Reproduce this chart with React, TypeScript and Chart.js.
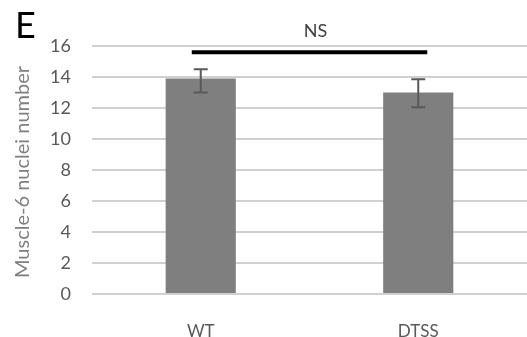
import React, { useEffect, useRef } from "react";
import { Chart, registerables } from "chart.js";

Chart.register(...registerables);

const categories = ["WT", "DTSS"];
const means = [13.9, 13.0];
const errUp = [0.6, 0.85];
const errDown = [0.9, 0.95];
const yTicks = [0, 2, 4, 6, 8, 10, 12, 14, 16];
const sigLabel = "NS";
const sigLevel = 15.6;
const panelLabel = "E";
const yTitle = "Muscle-6 nuclei number";

const FONT = "Lato, 'Open Sans', sans-serif";

const overlay = {
  id: "overlay",
  afterDatasetsDraw(chart: any) {
    const ctx = chart.ctx;
    const x = chart.scales.x;
    const y = chart.scales.y;
    ctx.save();
    // error bars
    ctx.strokeStyle = "#595959";
    ctx.lineWidth = 2;
    means.forEach((m, i) => {
      const cx = x.getPixelForValue(i);
      const top = y.getPixelForValue(m + errUp[i]);
      const bot = y.getPixelForValue(m - errDown[i]);
      ctx.beginPath();
      ctx.moveTo(cx, top);
      ctx.lineTo(cx, bot);
      ctx.moveTo(cx - 7, top);
      ctx.lineTo(cx + 7, top);
      ctx.moveTo(cx - 7, bot);
      ctx.lineTo(cx + 7, bot);
      ctx.stroke();
    });
    // significance line
    const x0 = x.getPixelForValue(0) - 9;
    const x1 = x.getPixelForValue(1) + 9;
    const ly = y.getPixelForValue(sigLevel);
    ctx.strokeStyle = "#000000";
    ctx.lineWidth = 4;
    ctx.beginPath();
    ctx.moveTo(x0, ly);
    ctx.lineTo(x1, ly);
    ctx.stroke();
    ctx.fillStyle = "#404040";
    ctx.font = `18px ${FONT}`;
    ctx.textAlign = "center";
    ctx.textBaseline = "middle";
    ctx.fillText(sigLabel, (x0 + x1) / 2 + 6, ly - 21);
    // panel label
    ctx.fillStyle = "#000000";
    ctx.font = `36px ${FONT}`;
    ctx.textAlign = "left";
    ctx.textBaseline = "alphabetic";
    ctx.fillText(panelLabel, 15, 38);
    // y title
    ctx.translate(23, 172);
    ctx.rotate(-Math.PI / 2);
    ctx.fillStyle = "#7f7f7f";
    ctx.font = `20px ${FONT}`;
    ctx.textAlign = "center";
    ctx.textBaseline = "middle";
    ctx.fillText(yTitle, 0, 0);
    ctx.restore();
  },
};

export default function App() {
  const ref = useRef<HTMLCanvasElement>(null);
  useEffect(() => {
    document.body.style.margin = "0";
    const chart = new Chart(ref.current!, {
      type: "bar",
      data: {
        labels: categories,
        datasets: [
          {
            data: means,
            backgroundColor: "#7f7f7f",
            borderWidth: 0,
            categoryPercentage: 1,
            barPercentage: 70 / 217,
          },
        ],
      },
      options: {
        responsive: false,
        animation: false,
        layout: { padding: { top: 46, right: 0, left: 0, bottom: 0 } },
        plugins: { legend: { display: false }, tooltip: { enabled: false } },
        scales: {
          x: {
            grid: { display: false },
            border: { display: false },
            ticks: { color: "#595959", font: { size: 17, family: FONT }, padding: 19 },
            afterFit: (s: any) => {
              s.height = 43;
            },
          },
          y: {
            min: 0,
            max: 16,
            afterBuildTicks: (s: any) => {
              s.ticks = yTicks.map((v) => ({ value: v }));
            },
            grid: { color: "#d0d0d0", lineWidth: 2, drawTicks: false },
            border: { display: false },
            ticks: { color: "#595959", font: { size: 18, family: FONT }, padding: 21 },
            afterFit: (s: any) => {
              s.width = 92;
            },
          },
        },
      },
      plugins: [overlay],
    });
    return () => chart.destroy();
  }, []);
  return (
    <div style={{ position: "absolute", left: 0, top: 0, width: 527, height: 337 }}>
      <canvas ref={ref} width={527} height={337} />
    </div>
  );
}
